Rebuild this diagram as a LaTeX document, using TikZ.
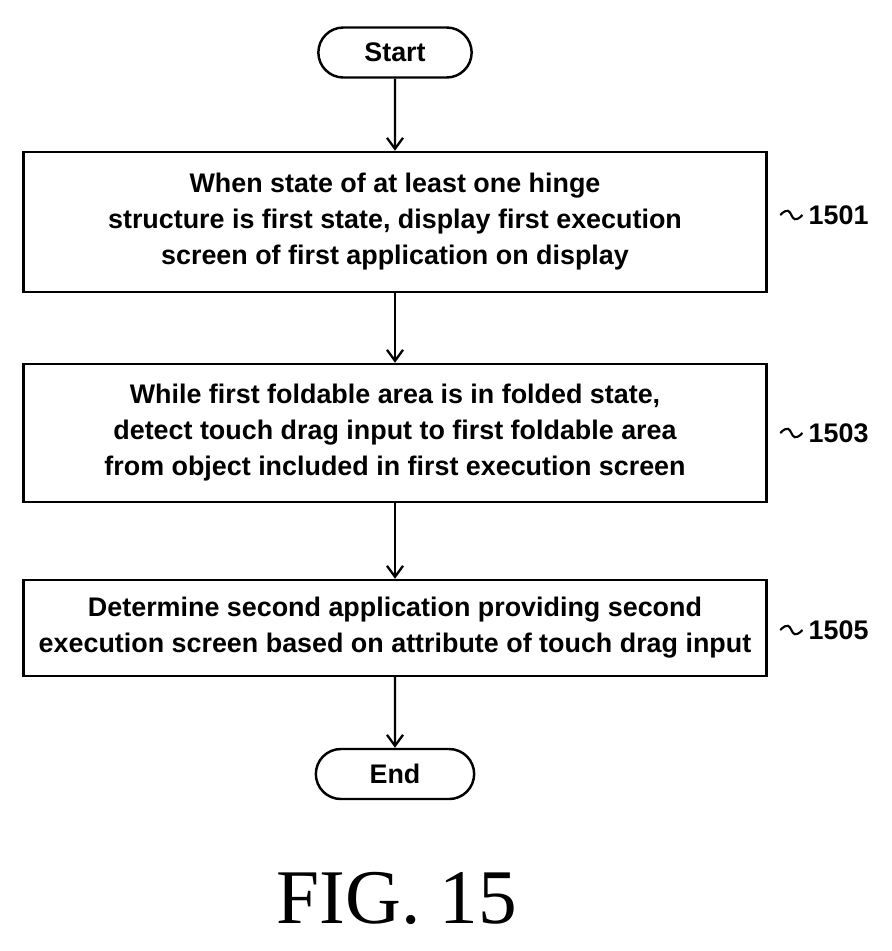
\documentclass[tikz,border=0pt]{standalone}
\usepackage{fontspec}
\setmainfont{Liberation Sans}
\newfontfamily\figfont{Liberation Serif}
\usetikzlibrary{shapes.misc,arrows.meta}
\tikzset{
  box/.style={draw,line width=1.4pt,minimum width=14.86cm,inner xsep=2pt,align=center,font=\bfseries\fontsize{15.3}{20.5}\selectfont},
  term/.style={draw,rounded rectangle,line width=1.4pt,minimum height=1cm,font=\bfseries\fontsize{15.3}{20.5}\selectfont},
  flow/.style={-{Straight Barb[length=2.2mm,width=3.2mm]},line width=1.3pt},
  tag/.style={font=\bfseries\fontsize{15.3}{20.5}\selectfont}
}
\begin{document}
\begin{tikzpicture}
  \useasboundingbox (0,0) rectangle (17.84,-19.02);
  \node[term,minimum width=3.3cm] (start) at (7.9,-1.05) {Start};
  \node[box,minimum height=2.8cm] (s1) at (7.9,-4.44) {When state of at least one hinge\\structure is first state, display first execution\\screen of first application on display};
  \node[box,minimum height=2.76cm] (s2) at (7.9,-8.66) {While first foldable area is in folded state,\\detect touch drag input to first foldable area\\from object included in first execution screen};
  \node[box,minimum height=1.92cm] (s3) at (7.9,-12.56) {Determine second application providing second\\execution screen based on attribute of touch drag input};
  \node[term,minimum width=3.4cm] (end) at (7.9,-15.48) {End};
  \node[font=\figfont\fontsize{44}{50}\selectfont] (fig) at (7.94,-17.96) {FIG. 15};
  % step numbers
  \node[tag,anchor=west] (t1) at (16.05,-4.3) {1501};
  \node[tag,anchor=west] (t2) at (16.05,-8.66) {1503};
  \node[tag,anchor=west] (t3) at (16.05,-12.6) {1505};
  \foreach \s/\t in {s1/t1,s2/t2,s3/t3}
    \draw[line width=1.2pt] (\s.east |- \t.west) ++(0.25,0) .. controls +(0.3,0.3) and +(-0.3,-0.3) .. (\t.west);
  \draw[flow] (start) -- (s1);
  \draw[flow] (s1) -- (s2);
  \draw[flow] (s2) -- (s3);
  \draw[flow] (s3) -- (end);
\end{tikzpicture}
\end{document}
